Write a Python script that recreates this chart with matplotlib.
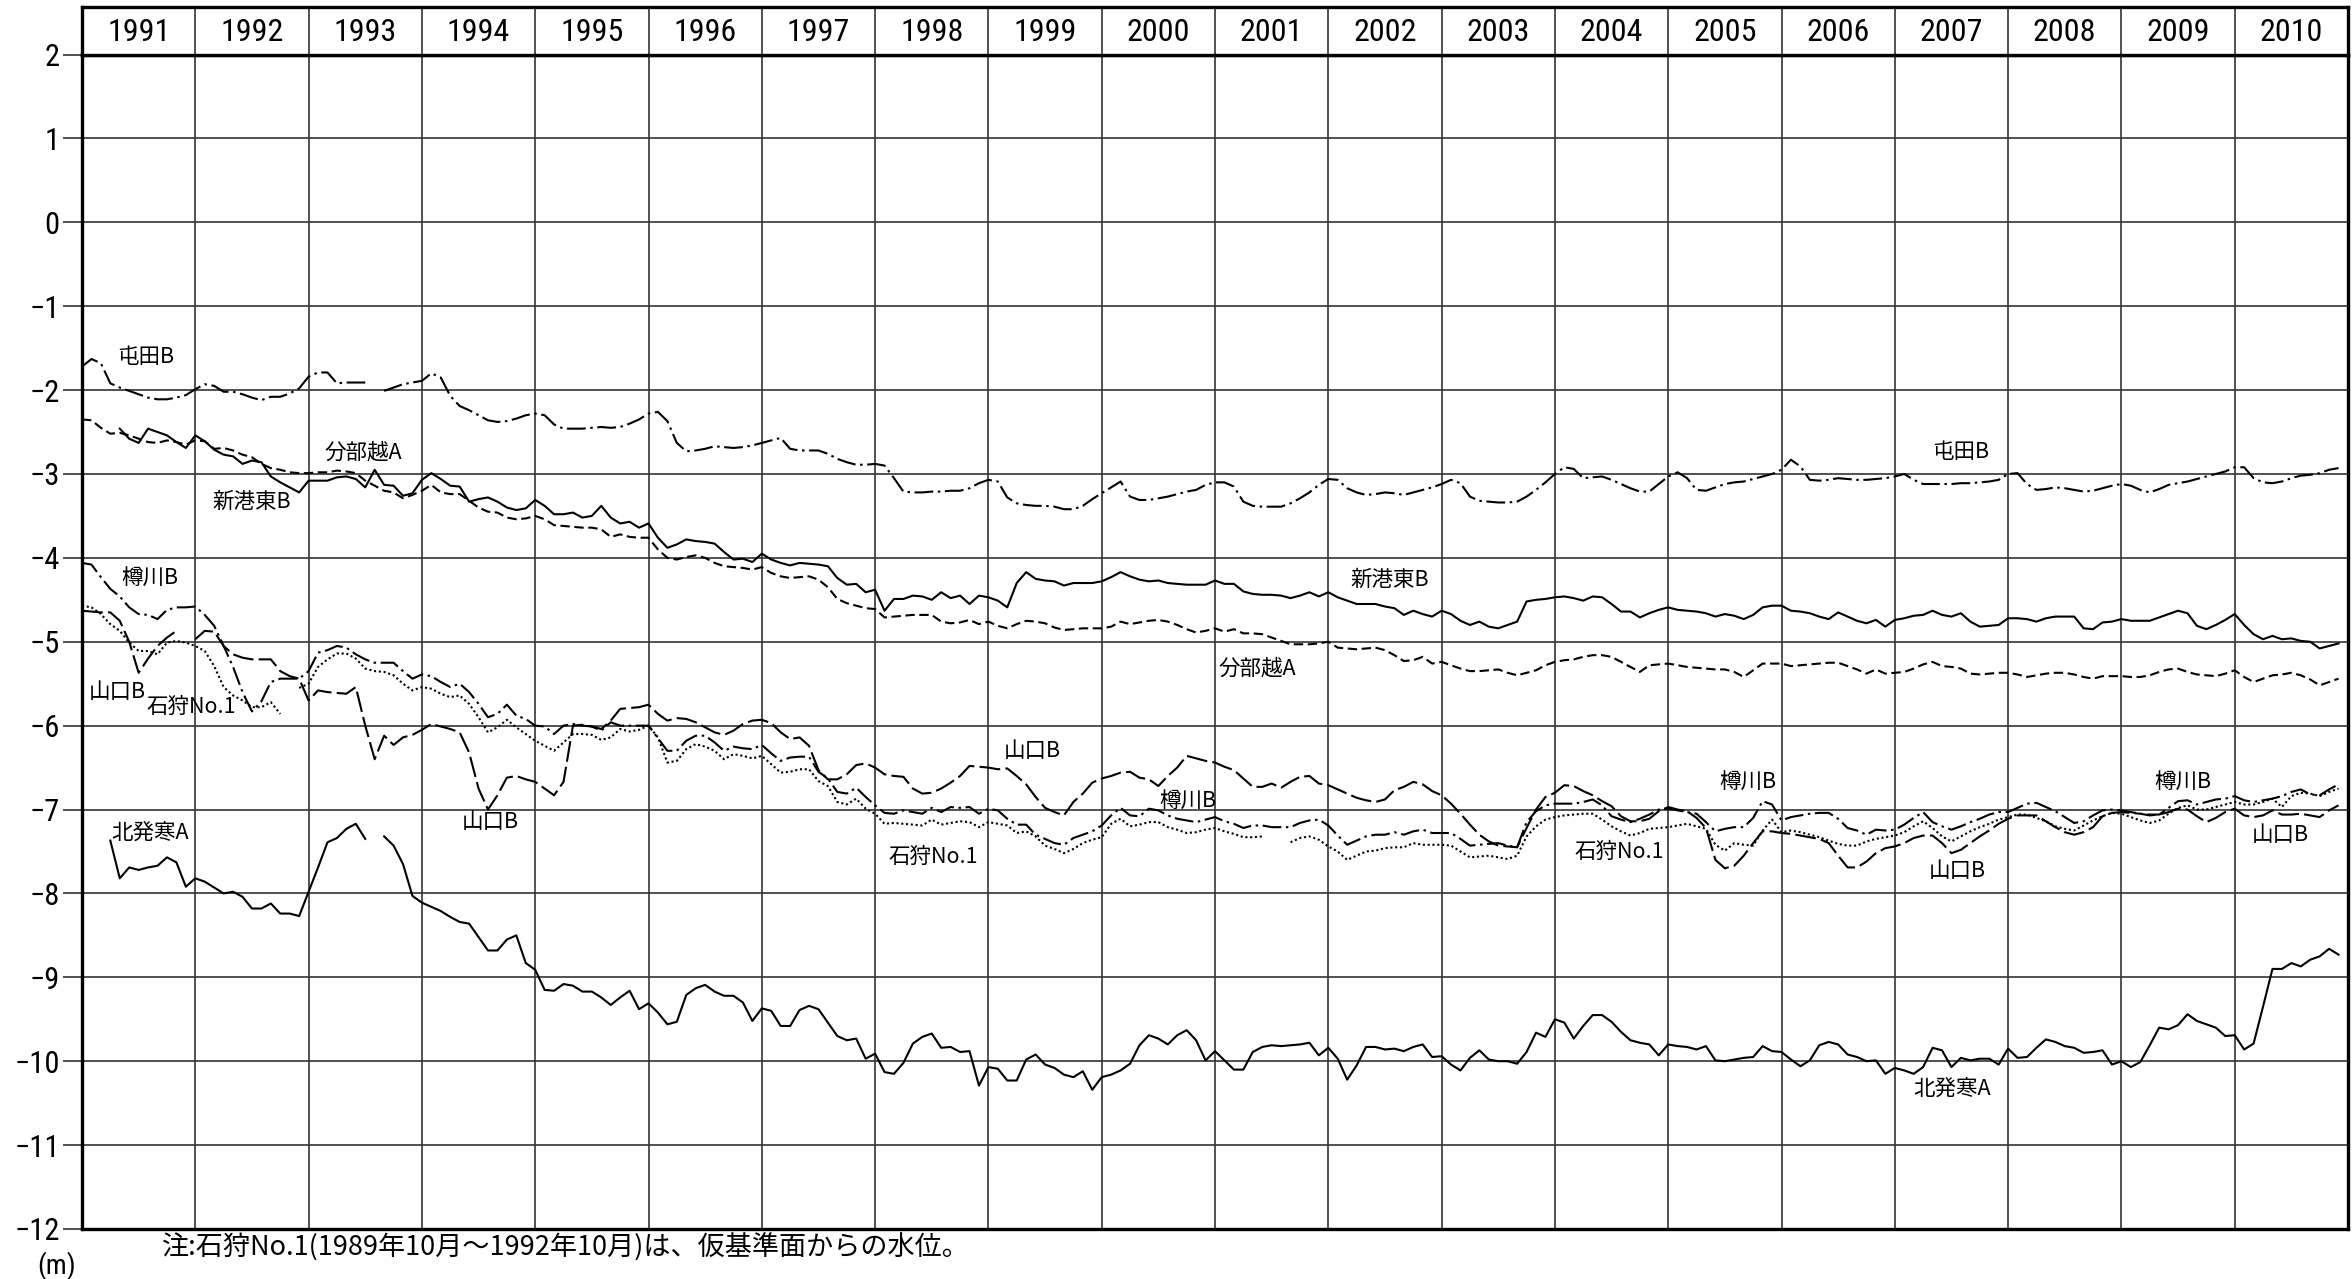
import numpy as np
import matplotlib
matplotlib.use("Agg")
import matplotlib.pyplot as plt
from matplotlib import font_manager

nan = np.nan

# ---- data: monthly groundwater level (m), Jan 1991 .. Dec 2010 ----
years = list(range(1991, 2011))

tonden_b = [
 -1.72,-1.63,-1.68,-1.92,-1.97,-2.01,-2.05,-2.09,-2.11,-2.11,-2.09,-2.06,
 -1.99,-1.93,-1.95,-2.02,-2.02,-2.05,-2.09,-2.12,-2.08,-2.08,-2.04,-1.98,
 -1.84,-1.79,-1.79,-1.92,-1.91,-1.91,-1.91,nan,-2.01,-1.97,-1.93,-1.91,
 -1.89,-1.80,-1.85,-2.07,-2.19,-2.24,-2.30,-2.36,-2.38,-2.37,-2.34,-2.30,
 -2.28,-2.30,-2.41,-2.46,-2.46,-2.46,-2.45,-2.44,-2.45,-2.44,-2.40,-2.35,
 -2.28,-2.26,-2.37,-2.63,-2.73,-2.72,-2.70,-2.67,-2.68,-2.69,-2.68,-2.66,
 -2.63,-2.60,-2.57,-2.70,-2.72,-2.72,-2.72,-2.76,-2.82,-2.86,-2.89,-2.89,
 -2.88,-2.90,-3.05,-3.21,-3.22,-3.22,-3.21,-3.21,-3.20,-3.20,-3.17,-3.11,
 -3.07,-3.09,-3.28,-3.35,-3.37,-3.38,-3.38,-3.39,-3.42,-3.42,-3.38,-3.30,
 -3.23,-3.16,-3.09,-3.27,-3.31,-3.31,-3.29,-3.27,-3.24,-3.21,-3.19,-3.13,
 -3.10,-3.10,-3.15,-3.33,-3.38,-3.39,-3.39,-3.39,-3.35,-3.29,-3.22,-3.13,
 -3.06,-3.07,-3.17,-3.22,-3.25,-3.24,-3.22,-3.23,-3.25,-3.22,-3.19,-3.16,
 -3.12,-3.07,-3.11,-3.27,-3.32,-3.33,-3.34,-3.34,-3.33,-3.27,-3.19,-3.10,
 -3.00,-2.92,-2.94,-3.05,-3.04,-3.03,-3.07,-3.12,-3.17,-3.21,-3.21,-3.12,
 -3.03,-2.98,-3.05,-3.19,-3.20,-3.16,-3.12,-3.10,-3.09,-3.06,-3.03,-3.00,
 -2.95,-2.83,-2.91,-3.07,-3.08,-3.07,-3.05,-3.06,-3.07,-3.07,-3.06,-3.05,
 -3.03,-3.00,-3.07,-3.12,-3.12,-3.12,-3.12,-3.11,-3.11,-3.10,-3.09,-3.07,
 -3.00,-2.99,-3.12,-3.19,-3.18,-3.16,-3.17,-3.19,-3.21,-3.20,-3.17,-3.14,
 -3.12,-3.14,-3.19,-3.22,-3.18,-3.13,-3.11,-3.09,-3.06,-3.03,-3.00,-2.97,
 -2.92,-2.92,-3.05,-3.10,-3.11,-3.09,-3.05,-3.02,-3.01,-2.99,-2.95,-2.93,
]

bunbuetsu_a = [
 -2.35,-2.36,-2.45,-2.52,-2.51,-2.54,-2.58,-2.62,-2.63,-2.60,-2.62,-2.65,
 -2.60,-2.61,-2.70,-2.69,-2.72,-2.77,-2.80,-2.88,-2.93,-2.95,-2.98,-2.99,
 -2.99,-2.98,-2.98,-2.96,-2.97,-2.99,-3.08,-3.14,-3.20,-3.22,-3.29,-3.25,
 -3.20,-3.13,-3.22,-3.24,-3.24,-3.32,-3.40,-3.45,-3.46,-3.52,-3.54,-3.53,
 -3.50,-3.54,-3.61,-3.62,-3.63,-3.64,-3.64,-3.66,-3.75,-3.72,-3.75,-3.76,
 -3.76,-3.90,-4.00,-4.02,-3.99,-3.97,-4.00,-4.06,-4.10,-4.11,-4.12,-4.14,
 -4.11,-4.18,-4.22,-4.24,-4.23,-4.22,-4.26,-4.35,-4.49,-4.54,-4.57,-4.60,
 -4.61,-4.71,-4.70,-4.69,-4.68,-4.68,-4.68,-4.76,-4.78,-4.77,-4.74,-4.79,
 -4.76,-4.81,-4.84,-4.79,-4.75,-4.76,-4.78,-4.83,-4.86,-4.85,-4.84,-4.84,
 -4.84,-4.82,-4.76,-4.79,-4.77,-4.75,-4.74,-4.76,-4.80,-4.85,-4.89,-4.87,
 -4.84,-4.88,-4.85,-4.90,-4.90,-4.91,-4.95,-4.99,-5.03,-5.03,-5.03,-5.02,
 -5.00,-5.07,-5.08,-5.09,-5.08,-5.07,-5.10,-5.16,-5.23,-5.22,-5.18,-5.26,
 -5.24,-5.28,-5.32,-5.35,-5.35,-5.34,-5.33,-5.37,-5.40,-5.37,-5.34,-5.28,
 -5.24,-5.22,-5.21,-5.18,-5.16,-5.16,-5.18,-5.24,-5.30,-5.36,-5.28,-5.27,
 -5.26,-5.28,-5.30,-5.31,-5.32,-5.33,-5.33,-5.36,-5.42,-5.34,-5.26,-5.26,
 -5.26,-5.29,-5.28,-5.27,-5.26,-5.25,-5.25,-5.29,-5.33,-5.38,-5.33,-5.38,
 -5.37,-5.36,-5.32,-5.27,-5.24,-5.29,-5.30,-5.32,-5.38,-5.39,-5.38,-5.37,
 -5.37,-5.39,-5.42,-5.40,-5.38,-5.37,-5.37,-5.39,-5.42,-5.44,-5.41,-5.41,
 -5.41,-5.42,-5.42,-5.40,-5.36,-5.33,-5.32,-5.36,-5.39,-5.40,-5.41,-5.38,
 -5.34,-5.42,-5.48,-5.44,-5.40,-5.39,-5.37,-5.40,-5.45,-5.52,-5.48,-5.44,
]

shinkoh_higashi_b = [
   nan,  nan,  nan,  nan,-2.46,-2.58,-2.63,-2.46,-2.50,-2.54,-2.62,-2.69,
 -2.54,-2.61,-2.71,-2.77,-2.79,-2.88,-2.84,-2.86,-3.03,-3.10,-3.16,-3.22,
 -3.08,-3.08,-3.08,-3.04,-3.03,-3.06,-3.16,-2.95,-3.13,-3.14,-3.26,-3.23,
 -3.07,-2.99,-3.06,-3.14,-3.15,-3.33,-3.30,-3.28,-3.33,-3.40,-3.43,-3.41,
 -3.31,-3.38,-3.48,-3.48,-3.46,-3.52,-3.50,-3.38,-3.52,-3.59,-3.57,-3.64,
 -3.59,-3.76,-3.88,-3.84,-3.78,-3.80,-3.81,-3.83,-3.93,-4.02,-4.01,-4.05,
 -3.95,-4.02,-4.06,-4.09,-4.06,-4.07,-4.08,-4.10,-4.24,-4.32,-4.31,-4.41,
 -4.38,-4.63,-4.49,-4.49,-4.45,-4.46,-4.50,-4.41,-4.48,-4.45,-4.55,-4.45,
 -4.47,-4.51,-4.59,-4.30,-4.17,-4.25,-4.27,-4.28,-4.33,-4.30,-4.30,-4.30,
 -4.28,-4.23,-4.17,-4.22,-4.26,-4.28,-4.27,-4.30,-4.31,-4.32,-4.32,-4.32,
 -4.27,-4.31,-4.31,-4.40,-4.43,-4.44,-4.44,-4.45,-4.48,-4.45,-4.41,-4.46,
 -4.41,-4.47,-4.51,-4.55,-4.55,-4.55,-4.58,-4.60,-4.68,-4.63,-4.67,-4.70,
 -4.63,-4.67,-4.75,-4.80,-4.76,-4.82,-4.84,-4.80,-4.76,-4.52,-4.50,-4.49,
 -4.47,-4.46,-4.48,-4.51,-4.46,-4.47,-4.55,-4.64,-4.64,-4.71,-4.66,-4.62,
 -4.59,-4.62,-4.63,-4.64,-4.66,-4.70,-4.67,-4.69,-4.73,-4.68,-4.59,-4.57,
 -4.57,-4.63,-4.64,-4.66,-4.70,-4.73,-4.65,-4.70,-4.75,-4.78,-4.74,-4.82,
 -4.74,-4.72,-4.69,-4.68,-4.63,-4.68,-4.70,-4.66,-4.76,-4.82,-4.81,-4.80,
 -4.72,-4.72,-4.73,-4.76,-4.72,-4.70,-4.70,-4.70,-4.84,-4.85,-4.77,-4.76,
 -4.73,-4.75,-4.75,-4.75,-4.71,-4.67,-4.63,-4.66,-4.81,-4.85,-4.80,-4.74,
 -4.67,-4.80,-4.91,-4.97,-4.93,-4.97,-4.96,-4.99,-5.00,-5.08,-5.05,-5.02,
]

tarukawa_b = [
 -4.06,-4.08,-4.23,-4.37,-4.46,-4.59,-4.67,-4.68,-4.73,-4.62,-4.59,-4.59,
 -4.58,-4.68,-4.81,-5.05,-5.30,-5.60,-5.83,-5.71,-5.48,-5.44,-5.44,-5.44,
 -5.35,-5.13,-5.10,-5.05,-5.07,-5.15,-5.21,-5.25,-5.25,-5.25,-5.35,-5.44,
 -5.39,-5.41,-5.48,-5.54,-5.50,-5.60,-5.74,-5.90,-5.86,-5.75,-5.88,-5.92,
 -6.00,-6.01,-6.10,-6.00,-5.98,-6.00,-6.01,-6.06,-5.96,-6.00,-6.00,-6.00,
 -6.00,-6.15,-6.30,-6.30,-6.18,-6.12,-6.12,-6.20,-6.30,-6.25,-6.27,-6.28,
 -6.23,-6.33,-6.42,-6.38,-6.37,-6.37,-6.55,-6.63,-6.79,-6.81,-6.74,-6.85,
 -6.95,-7.04,-7.05,-7.01,-7.03,-7.05,-6.98,-7.03,-6.97,-6.98,-6.97,-7.05,
 -6.99,-7.01,-7.11,-7.18,-7.18,-7.30,-7.35,-7.40,-7.42,-7.34,-7.30,-7.26,
 -7.19,-7.07,-6.98,-7.07,-7.08,-6.99,-7.01,-7.07,-7.11,-7.13,-7.15,-7.12,
 -7.09,-7.14,-7.17,-7.22,-7.19,-7.19,-7.21,-7.21,-7.21,-7.16,-7.13,-7.12,
 -7.19,-7.31,-7.42,-7.37,-7.32,-7.30,-7.30,-7.27,-7.30,-7.26,-7.24,-7.28,
 -7.28,-7.28,-7.35,-7.43,-7.42,-7.41,-7.40,-7.43,-7.45,-7.15,-7.02,-6.95,
 -6.93,-6.93,-6.93,-6.91,-6.88,-6.95,-7.08,-7.12,-7.15,-7.11,-7.06,-7.00,
 -6.99,-7.01,-7.03,-7.05,-7.15,-7.26,-7.23,-7.21,-7.21,-7.10,-6.90,-6.94,
 -7.13,-7.09,-7.07,-7.05,-7.04,-7.04,-7.11,-7.22,-7.25,-7.30,-7.24,-7.25,
 -7.24,-7.18,-7.10,-7.03,-7.15,-7.20,-7.24,-7.20,-7.15,-7.11,-7.06,-7.03,
 -7.03,-6.98,-6.93,-6.92,-6.97,-7.02,-7.09,-7.16,-7.14,-7.07,-7.01,-7.00,
 -7.01,-7.03,-7.05,-7.06,-7.06,-6.98,-6.90,-6.89,-6.94,-6.91,-6.88,-6.87,
 -6.84,-6.89,-6.91,-6.89,-6.87,-6.84,-6.79,-6.76,-6.82,-6.83,-6.76,-6.70,
]

yamaguchi_b = [
 -4.63,-4.64,-4.65,-4.65,-4.75,-5.00,-5.37,-5.20,-5.05,-4.95,-4.87,  nan,
 -4.97,-4.87,-4.88,-5.05,-5.15,-5.19,-5.21,-5.21,-5.21,-5.35,-5.41,-5.44,
 -5.70,-5.58,-5.60,-5.61,-5.62,-5.54,-6.00,-6.40,-6.12,-6.23,-6.14,-6.11,
 -6.05,-5.98,-6.01,-6.04,-6.08,-6.32,-6.75,-7.00,-6.83,-6.62,-6.60,-6.64,
 -6.67,-6.75,-6.83,-6.67,-6.00,-5.99,-6.01,-6.04,-5.94,-5.80,-5.79,-5.78,
 -5.75,-5.86,-5.94,-5.91,-5.92,-5.96,-6.02,-6.08,-6.11,-6.06,-5.98,-5.94,
 -5.93,-5.97,-6.08,-6.16,-6.14,-6.24,-6.53,-6.64,-6.64,-6.58,-6.47,-6.45,
 -6.50,-6.58,-6.60,-6.61,-6.75,-6.81,-6.80,-6.75,-6.68,-6.60,-6.48,-6.49,
 -6.50,-6.52,-6.51,-6.60,-6.70,-6.85,-6.98,-7.03,-7.07,-6.91,-6.81,-6.68,
 -6.63,-6.60,-6.56,-6.55,-6.62,-6.64,-6.72,-6.60,-6.50,-6.36,-6.39,-6.42,
 -6.44,-6.49,-6.53,-6.63,-6.73,-6.73,-6.69,-6.74,-6.67,-6.61,-6.60,-6.69,
 -6.71,-6.76,-6.81,-6.86,-6.89,-6.91,-6.88,-6.77,-6.73,-6.67,-6.70,-6.78,
 -6.83,-6.93,-7.05,-7.18,-7.30,-7.38,-7.43,-7.44,-7.45,-7.22,-7.00,-6.85,
 -6.80,-6.71,-6.72,-6.78,-6.83,-6.90,-6.96,-7.08,-7.14,-7.14,-7.11,-7.02,
 -6.97,-7.00,-7.02,-7.10,-7.22,-7.60,-7.70,-7.67,-7.55,-7.40,-7.26,-7.26,
 -7.28,-7.29,-7.31,-7.33,-7.35,-7.40,-7.55,-7.69,-7.69,-7.62,-7.52,-7.46,
 -7.44,-7.40,-7.34,-7.31,-7.31,-7.40,-7.52,-7.48,-7.40,-7.32,-7.25,-7.17,
 -7.11,-7.07,-7.07,-7.07,-7.14,-7.21,-7.27,-7.30,-7.27,-7.21,-7.08,-7.04,
 -7.03,-7.04,-7.05,-7.07,-7.06,-7.03,-6.99,-7.00,-7.08,-7.15,-7.10,-7.03,
 -6.99,-7.07,-7.09,-7.07,-7.01,-7.06,-7.06,-7.05,-7.07,-7.09,-7.01,-6.95,
]

ishikari_no1 = [
 -4.57,-4.59,-4.67,-4.79,-4.87,-5.01,-5.11,-5.11,-5.15,-5.01,-4.99,-5.01,
 -5.05,-5.11,-5.29,-5.54,-5.64,-5.70,-5.78,-5.78,-5.72,-5.86,  nan,-5.55,
 -5.50,-5.30,-5.21,-5.14,-5.14,-5.20,-5.32,-5.35,-5.36,-5.40,-5.50,-5.58,
 -5.54,-5.56,-5.62,-5.66,-5.64,-5.74,-5.90,-6.08,-6.02,-5.93,-6.02,-6.10,
 -6.18,-6.24,-6.30,-6.20,-6.10,-6.10,-6.11,-6.17,-6.14,-6.04,-6.07,-6.05,
 -6.00,-6.14,-6.44,-6.42,-6.28,-6.22,-6.25,-6.30,-6.40,-6.34,-6.36,-6.39,
 -6.36,-6.46,-6.56,-6.55,-6.52,-6.52,-6.66,-6.72,-6.91,-6.94,-6.87,-6.99,
 -7.05,-7.17,-7.16,-7.17,-7.18,-7.19,-7.12,-7.18,-7.16,-7.14,-7.15,-7.21,
 -7.15,-7.17,-7.19,-7.28,-7.26,-7.32,-7.43,-7.47,-7.52,-7.47,-7.40,-7.36,
 -7.33,-7.17,-7.11,-7.20,-7.18,-7.15,-7.15,-7.21,-7.24,-7.28,-7.27,-7.24,
 -7.22,-7.26,-7.29,-7.33,-7.33,-7.32,  nan,  nan,-7.39,-7.34,-7.32,-7.36,
 -7.44,-7.50,-7.60,-7.55,-7.50,-7.49,-7.46,-7.45,-7.45,-7.40,-7.42,-7.42,
 -7.42,-7.43,-7.50,-7.57,-7.56,-7.55,-7.57,-7.59,-7.55,-7.32,-7.20,-7.12,
 -7.09,-7.07,-7.06,-7.05,-7.05,-7.12,-7.20,-7.26,-7.31,-7.28,-7.23,-7.22,
 -7.21,-7.19,-7.17,-7.20,-7.23,-7.42,-7.49,-7.40,-7.42,-7.43,-7.25,-7.12,
 -7.27,-7.25,-7.27,-7.30,-7.33,-7.37,-7.41,-7.43,-7.43,-7.38,-7.35,-7.33,
 -7.31,-7.27,-7.20,-7.14,-7.22,-7.32,-7.38,-7.32,-7.26,-7.21,-7.17,-7.12,
 -7.09,-7.06,-7.06,-7.10,-7.14,-7.20,-7.23,-7.25,-7.19,-7.13,-7.08,-7.04,
 -7.05,-7.09,-7.13,-7.16,-7.13,-7.05,-6.98,-6.95,-7.00,-7.00,-6.97,-6.94,
 -6.91,-6.94,-6.94,-6.91,-6.87,-6.97,-6.84,-6.80,-6.81,-6.84,-6.79,-6.75,
]

kitahassamu_a = [
   nan,  nan,  nan,-7.37,-7.82,-7.69,-7.72,-7.69,-7.67,-7.57,-7.63,-7.92,
 -7.82,-7.86,-7.93,-8.00,-7.98,-8.04,-8.18,-8.18,-8.12,-8.24,-8.24,-8.27,
 -7.98,-7.69,-7.39,-7.34,-7.23,-7.17,-7.35,  nan,-7.32,-7.43,-7.65,-8.03,
 -8.11,-8.16,-8.21,-8.28,-8.34,-8.36,-8.52,-8.68,-8.68,-8.55,-8.50,-8.83,
 -8.91,-9.15,-9.16,-9.08,-9.10,-9.17,-9.17,-9.24,-9.33,-9.24,-9.16,-9.38,
 -9.31,-9.42,-9.56,-9.53,-9.21,-9.13,-9.09,-9.17,-9.22,-9.22,-9.30,-9.52,
 -9.37,-9.40,-9.58,-9.58,-9.39,-9.34,-9.38,-9.54,-9.70,-9.75,-9.73,-9.97,
 -9.91,-10.13,-10.15,-10.02,-9.79,-9.71,-9.67,-9.84,-9.83,-9.89,-9.88,-10.29,
 -10.07,-10.09,-10.23,-10.23,-9.98,-9.92,-10.04,-10.08,-10.16,-10.19,-10.12,-10.34,
 -10.19,-10.16,-10.11,-10.03,-9.81,-9.69,-9.73,-9.80,-9.69,-9.63,-9.75,-9.99,
 -9.88,-9.99,-10.10,-10.10,-9.89,-9.83,-9.81,-9.82,-9.81,-9.80,-9.78,-9.93,
 -9.84,-9.97,-10.22,-10.05,-9.83,-9.83,-9.86,-9.85,-9.88,-9.83,-9.80,-9.95,
 -9.94,-10.04,-10.11,-9.96,-9.87,-9.98,-10.00,-10.00,-10.03,-9.89,-9.66,-9.71,
 -9.50,-9.54,-9.73,-9.58,-9.45,-9.45,-9.53,-9.65,-9.75,-9.78,-9.80,-9.93,
 -9.80,-9.82,-9.83,-9.86,-9.82,-9.99,-10.00,-9.98,-9.96,-9.95,-9.82,-9.88,
 -9.89,-9.98,-10.06,-9.99,-9.81,-9.77,-9.80,-9.92,-9.95,-10.00,-9.99,-10.15,
 -10.08,-10.11,-10.15,-10.07,-9.84,-9.87,-10.07,-9.96,-9.99,-9.97,-9.97,-10.04,
 -9.85,-9.96,-9.95,-9.84,-9.74,-9.77,-9.82,-9.84,-9.90,-9.89,-9.87,-10.04,
 -10.00,-10.07,-10.01,-9.81,-9.60,-9.62,-9.57,-9.44,-9.52,-9.56,-9.60,-9.70,
 -9.69,-9.86,-9.79,-9.35,-8.90,-8.90,-8.83,-8.87,-8.79,-8.75,-8.66,-8.73,
]

# in-plot station labels: (text, year position, level)
station_labels = [
    ("屯田B", 1991.56, -1.61), ("分部越A", 1993.48, -2.74), ("新港東B", 1992.50, -3.33),
    ("樽川B", 1991.60, -4.24), ("山口B", 1991.31, -5.60), ("石狩No.1", 1991.96, -5.78),
    ("北発寒A", 1991.60, -7.28), ("山口B", 1994.60, -7.15),
    ("屯田B", 2007.58, -2.74), ("新港東B", 2002.54, -4.26), ("分部越A", 2001.37, -5.32),
    ("山口B", 1999.39, -6.30), ("樽川B", 2000.76, -6.90), ("石狩No.1", 1998.51, -7.57),
    ("樽川B", 2005.70, -6.67), ("石狩No.1", 2004.57, -7.50), ("山口B", 2007.55, -7.73),
    ("樽川B", 2009.54, -6.67), ("山口B", 2010.40, -7.30), ("北発寒A", 2007.51, -10.33),
]

y_ticks = list(range(-12, 3))
note_text = "注:石狩No.1(1989年10月～1992年10月)は、仮基準面からの水位。"
unit_text = "(m)"

# ---- fonts ----
available = {f.name for f in font_manager.fontManager.ttflist}
num_font = next((f for f in ["Liberation Sans Narrow", "Roboto Condensed", "DejaVu Sans"]
                 if f in available), "DejaVu Sans")
jp_font = ["Noto Sans CJK JP", "DejaVu Sans"]

# ---- figure ----
W, H = 2352, 1279
fig = plt.figure(figsize=(W / 100, H / 100), dpi=100)
left, right = 82 / W, 2348 / W
bottom, top = 1 - 1229 / H, 1 - 54.5 / H
head_top = 1 - 7 / H
ax = fig.add_axes([left, bottom, right - left, top - bottom])
hdr = fig.add_axes([left, top, right - left, head_top - top])

x0, x1 = years[0], years[-1] + 1
t = years[0] + np.arange(len(years) * 12) / 12.0

grid_kw = dict(color="#333333", lw=1.2, zorder=1)
for yv in y_ticks:
    ax.axhline(yv, **grid_kw)
for yr in years[1:]:
    ax.axvline(yr, **grid_kw)
    hdr.axvline(yr, **grid_kw)

series = [
    (tonden_b,          (0, (9, 2.2, 1.2, 2.2))),
    (bunbuetsu_a,       (0, (4.5, 2.2))),
    (shinkoh_higashi_b, "-"),
    (tarukawa_b,        (0, (9, 2.2, 1.2, 2.2))),
    (yamaguchi_b,       (0, (10, 2.5))),
    (ishikari_no1,      (0, (1, 1.3))),
    (kitahassamu_a,     "-"),
]
for vals, ls in series:
    ax.plot(t, np.array(vals, dtype=float), color="black", lw=1.5, ls=ls,
            zorder=3, dash_capstyle="butt")

for txt, xv, yv in station_labels:
    ax.text(xv, yv, txt, family=jp_font, fontsize=15.5, ha="center", va="center",
            zorder=4)

ax.set_xlim(x0, x1)
ax.set_ylim(-12, 2)
ax.set_xticks([])
ax.set_yticks(y_ticks)
ax.set_yticklabels([str(v).replace("-", "−") for v in y_ticks],
                   family=num_font, fontsize=22)
ax.tick_params(axis="y", length=14, width=1.2, pad=2, color="#333333")
for s in ax.spines.values():
    s.set_linewidth(2.4)
    s.set_zorder(5)

hdr.set_xlim(x0, x1)
hdr.set_ylim(0, 1)
hdr.set_xticks([])
hdr.set_yticks([])
for s in hdr.spines.values():
    s.set_linewidth(2.4)
for yr in years:
    hdr.text(yr + 0.5, 0.47, str(yr), family=num_font, fontsize=23,
             ha="center", va="center")

fig.text(162 / W, 1 - 1248 / H, note_text, family=jp_font, fontsize=19.5,
         ha="left", va="center")
fig.text(57 / W, 1 - 1266 / H, unit_text, family=num_font, fontsize=20,
         ha="center", va="center")

fig.savefig("out.png", dpi=100)
